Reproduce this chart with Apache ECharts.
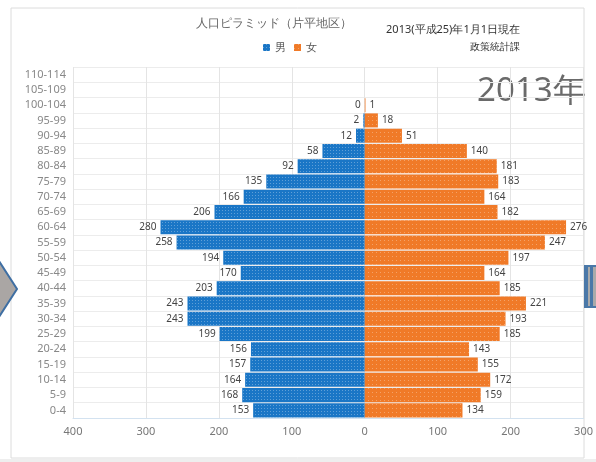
<!DOCTYPE html>
<html><head><meta charset="utf-8">
<script src="https://cdn.jsdelivr.net/npm/echarts@6/dist/echarts.min.js"></script>
<style>html,body{margin:0;padding:0;background:#fff}#c{width:596px;height:462px}</style>
</head><body><div id="c"></div>
<script>
const ageGroups = ['0-4','5-9','10-14','15-19','20-24','25-29','30-34','35-39','40-44','45-49','50-54','55-59','60-64','65-69','70-74','75-79','80-84','85-89','90-94','95-99','100-104','105-109','110-114'];
const maleValues = [153,168,164,157,156,199,243,243,203,170,194,258,280,206,166,135,92,58,12,2,0,null,null];
const femaleValues = [134,159,172,155,143,185,193,221,185,164,197,247,276,182,164,183,181,140,51,18,1,null,null];
const xTicks = [-400,-300,-200,-100,0,100,200,300];

const chart = echarts.init(document.getElementById('c'), null, {renderer:'canvas'});
const font = 'Noto Sans, sans-serif';
chart.setOption({
  animation:false,
  textStyle:{fontFamily:font},
  title:{text:'人口ピラミッド（片平地区）', left:191, top:13,
    textStyle:{fontSize:12, fontWeight:'normal', color:'#666', fontFamily:font}},
  legend:{data:['男','女'], left:258, top:37, itemWidth:7, itemHeight:7, itemGap:8, icon:'rect',
    textStyle:{fontSize:11, color:'#555'}},
  grid:{left:73, right:9, top:67, bottom:44, containLabel:false},
  xAxis:{type:'value', min:xTicks[0], max:xTicks[xTicks.length-1], interval:100,
    axisLine:{show:true, lineStyle:{color:'#d3e2f0'}}, axisTick:{show:false},
    axisLabel:{formatter:v=>Math.abs(v), color:'#777', fontSize:11, margin:8},
    splitLine:{lineStyle:{color:'#e4e4e4'}}},
  yAxis:{type:'category', data:ageGroups,
    axisLine:{show:false}, axisTick:{show:false},
    axisLabel:{color:'#888', fontSize:11, margin:7},
    splitLine:{show:true, lineStyle:{color:'#ececec'}}},
  series:[
    {name:'男', type:'bar', barGap:'-100%', barCategoryGap:'8%',
     data:maleValues.map(v=>v==null?null:-v),
     itemStyle:{color:'#1a76c6', decal:{symbol:'rect', symbolSize:1, dashArrayX:[1,2], dashArrayY:[1,2], color:'rgba(255,255,255,0.3)'}},
     label:{show:true, position:'left', distance:4, formatter:p=>Math.abs(p.value), color:'#444', fontSize:10}},
    {name:'女', type:'bar', barCategoryGap:'8%',
     data:femaleValues,
     itemStyle:{color:'#f07a28', decal:{symbol:'rect', symbolSize:1, dashArrayX:[1,3], dashArrayY:[1,3], color:'rgba(255,255,255,0.3)'}},
     label:{show:true, position:'right', distance:4, color:'#444', fontSize:10}}
  ],
  color:['#1a76c6','#f07a28'],
  graphic:[
    {type:'rect', shape:{x:11, y:8, width:573, height:450}, style:{fill:'none', stroke:'#dcdcdc', lineWidth:1}, silent:true, z:-1},
    {type:'rect', shape:{x:0, y:459, width:596, height:3}, style:{fill:'#eeeeee'}, silent:true, z:-2},
    {type:'polygon', shape:{points:[[-12,244],[17,289],[-12,334]]}, style:{fill:'#aaa6a4', stroke:'#3f6fa3', lineWidth:2}},
    {type:'rect', shape:{x:583, y:265, width:20, height:43}, style:{fill:'#4a78a8'}},
    {type:'rect', shape:{x:588, y:267, width:2, height:39}, style:{fill:'#aaa'}},
    {type:'rect', shape:{x:593, y:267, width:5, height:39}, style:{fill:'#aaa'}},
    {type:'text', x:520, y:30, style:{text:'2013(平成25)年1月1日現在', textAlign:'right', textVerticalAlign:'middle', fontSize:11, fill:'#333', fontFamily:font}},
    {type:'text', x:520, y:47, style:{text:'政策統計課', textAlign:'right', textVerticalAlign:'middle', fontSize:10, fill:'#333', fontFamily:font}},
    {type:'text', x:477, y:92, style:{text:'2013年', textAlign:'left', textVerticalAlign:'middle', fontSize:33, fill:'#6a6a6a', fontFamily:font}}
  ]
});
</script></body></html>
